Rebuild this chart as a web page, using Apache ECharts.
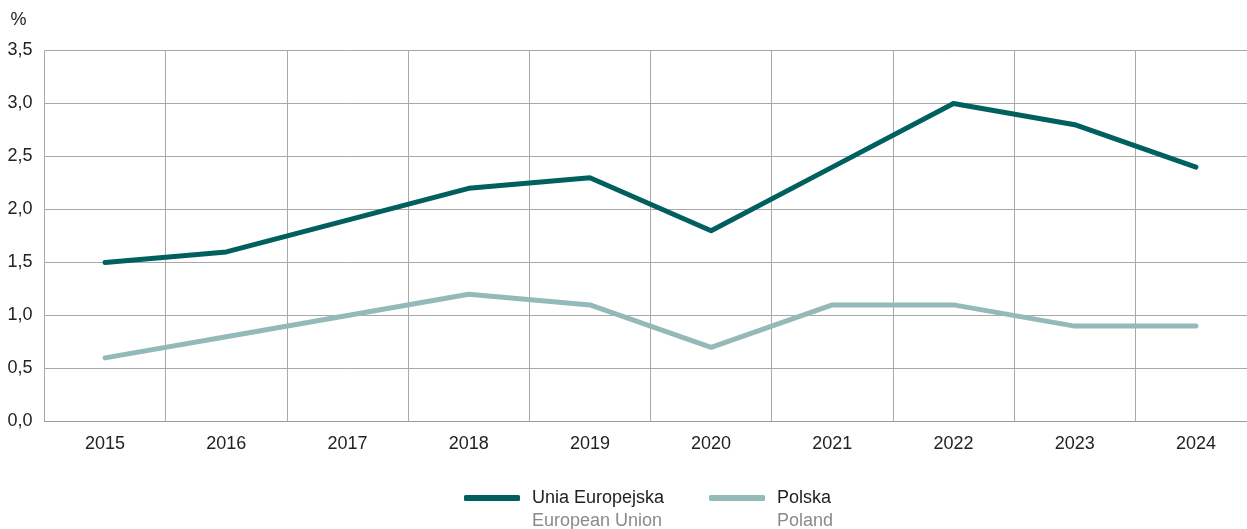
<!DOCTYPE html>
<html><head><meta charset="utf-8">
<script src="https://cdn.jsdelivr.net/npm/echarts@6/dist/echarts.min.js"></script>
<style>html,body{margin:0;padding:0;background:#fff}#c{width:1247px;height:529px}</style>
</head><body><div id="c"></div>
<script>
const categories = ['2015','2016','2017','2018','2019','2020','2021','2022','2023','2024'];
const euValues = [1.5, 1.6, 1.9, 2.2, 2.3, 1.8, 2.4, 3.0, 2.8, 2.4];
const plValues = [0.6, 0.8, 1.0, 1.2, 1.1, 0.7, 1.1, 1.1, 0.9, 0.9];
const seriesNames = ['Unia Europejska', 'Polska'];
const seriesNamesEn = ['European Union', 'Poland'];
const FONT = '"Liberation Sans Narrow", "Liberation Sans", "DejaVu Sans Condensed", sans-serif';
const chart = echarts.init(document.getElementById('c'));
chart.setOption({
  animation: false,
  backgroundColor: '#fff',
  grid: { left: 44.5, top: 50.5, width: 1212, height: 371, outerBoundsMode: 'none' },
  legend: {
    bottom: -6, left: 459, itemGap: 45, itemWidth: 56, itemHeight: 6,
    icon: 'roundRect',
    data: seriesNames,
    formatter: function (n) {
      const i = seriesNames.indexOf(n);
      return '{c| }\n{a|' + n + '}\n{b|' + seriesNamesEn[i] + '}';
    },
    textStyle: {
      fontFamily: FONT, padding: [0, 0, 0, 7],
      rich: {
        a: { fontFamily: FONT, fontSize: 18, color: '#222', lineHeight: 23 },
        b: { fontFamily: FONT, fontSize: 18, color: '#8a8a8a', lineHeight: 23 },
        c: { fontSize: 18, lineHeight: 23 }
      }
    }
  },
  xAxis: {
    type: 'category', data: categories, boundaryGap: true,
    axisLine: { lineStyle: { color: '#9a9a9a', width: 1 } },
    axisTick: { show: false },
    axisLabel: { fontFamily: FONT, fontSize: 18, color: '#222', margin: 14 },
    splitLine: { show: true, lineStyle: { color: '#a8a8a8', width: 1 } }
  },
  yAxis: {
    type: 'value', min: 0, max: 3.5, interval: 0.5,
    name: '%', nameLocation: 'end', nameGap: 21,
    nameTextStyle: { fontFamily: FONT, fontSize: 18, color: '#222', align: 'right', padding: [0, 18, 0, 0] },
    axisLine: { show: false }, axisTick: { show: false },
    axisLabel: { fontFamily: FONT, fontSize: 18, color: '#222', margin: 12,
      formatter: v => v.toFixed(1).replace('.', ',') },
    splitLine: { lineStyle: { color: '#a8a8a8', width: 1 } }
  },
  series: [
    { name: seriesNames[0], type: 'line', data: euValues, symbol: 'none',
      lineStyle: { color: '#00605f', width: 5, cap: 'round', join: 'round' }, itemStyle: { color: '#00605f' } },
    { name: seriesNames[1], type: 'line', data: plValues, symbol: 'none',
      lineStyle: { color: '#94b9b9', width: 5, cap: 'round', join: 'round' }, itemStyle: { color: '#94b9b9' } }
  ]
});
</script></body></html>
